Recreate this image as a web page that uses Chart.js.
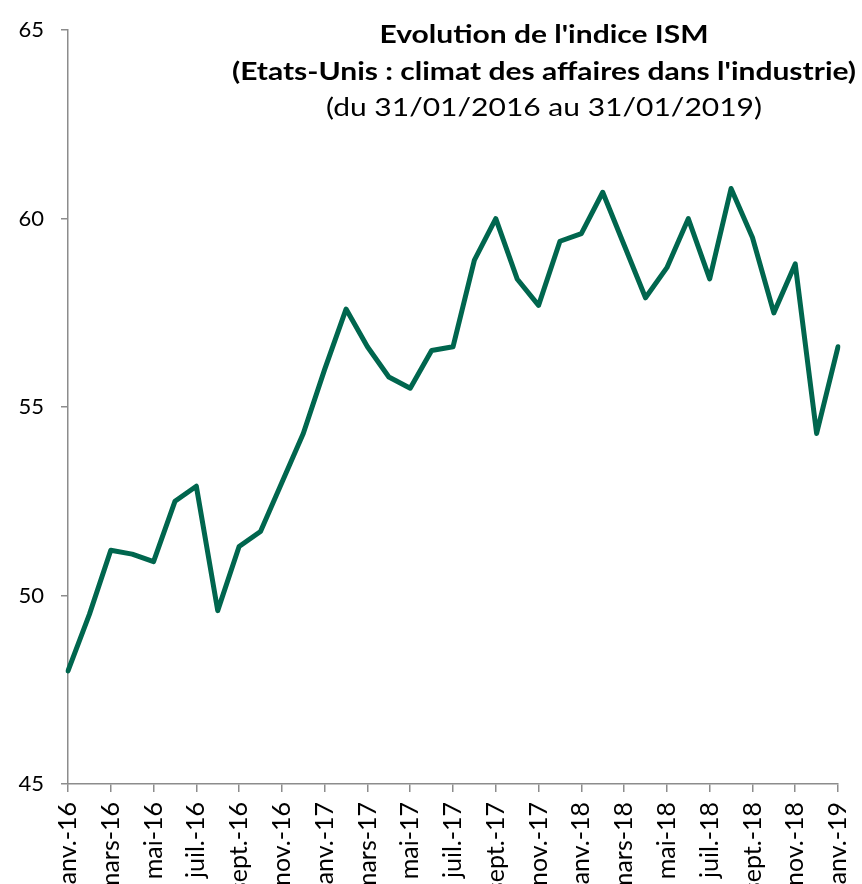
<!DOCTYPE html>
<html>
<head>
<meta charset="utf-8">
<script src="https://cdn.jsdelivr.net/npm/chart.js@4"></script>
<style>
  body { margin: 0; background: #fff; overflow: hidden; }
  #wrap { width: 862px; height: 884px; position: relative; }
</style>
</head>
<body>
<div id="wrap"><canvas id="ismChart"></canvas></div>
<script>
const months = ["janv.", "févr.", "mars", "avr.", "mai", "juin", "juil.", "août", "sept.", "oct.", "nov.", "déc."];
const years = ["16", "17", "18", "19"];

// one label per month, janv.-16 .. janv.-19
const labels = [];
years.forEach((yr) => {
  months.forEach((m) => labels.push(m + "-" + yr));
});
labels.length = 37;

// indice ISM manufacturier
const ismValues = [
  48.0, 49.5, 51.2, 51.1, 50.9, 52.5, 52.9, 49.6, 51.3, 51.7, 53.0, 54.3,
  56.0, 57.6, 56.6, 55.8, 55.5, 56.5, 56.6, 58.9, 60.0, 58.4, 57.7, 59.4,
  59.6, 60.7, 59.3, 57.9, 58.7, 60.0, 58.4, 60.8, 59.5, 57.5, 58.8, 54.3,
  56.6
];

const titleLines = [
  "Evolution de l'indice ISM",
  "(Etats-Unis : climat des affaires dans l'industrie)",
  "(du 31/01/2016 au 31/01/2019)"
];

const axisColor = "#8c8c8c";
const fontFamily = "Lato, 'Open Sans', sans-serif";

// title sits over the plot area, like the original
const titlePlugin = {
  id: "overlayTitle",
  afterDraw(chart) {
    const c = chart.ctx;
    const cx = 544;
    c.save();
    c.fillStyle = "#000";
    c.textAlign = "center";
    c.textBaseline = "middle";
    c.translate(cx, 0);
    c.scale(1.2, 1);
    c.font = "bold 25px " + fontFamily;
    c.fillText(titleLines[0], 0, 35);
    c.fillText(titleLines[1], 0, 72);
    c.font = "25px " + fontFamily;
    c.fillText(titleLines[2], 0, 108);
    c.restore();
  }
};

const ctx = document.getElementById("ismChart").getContext("2d");
new Chart(ctx, {
  type: "line",
  data: {
    labels: labels,
    datasets: [{
      data: ismValues,
      borderColor: "#00664e",
      borderWidth: 5,
      pointRadius: 0,
      tension: 0,
      borderJoinStyle: "round",
      borderCapStyle: "round"
    }]
  },
  options: {
    responsive: true,
    maintainAspectRatio: false,
    animation: false,
    layout: { padding: { top: 28, right: 24, left: 0, bottom: 0 } },
    plugins: {
      legend: { display: false },
      tooltip: { enabled: false }
    },
    scales: {
      x: {
        afterFit: (axis) => {
          axis.height = 100;
          axis.paddingLeft = 0;
          axis.paddingRight = 0;
        },
        border: { display: true, color: axisColor, width: 1.5 },
        grid: {
          drawOnChartArea: false,
          drawTicks: true,
          tickLength: 8,
          lineWidth: 1.5,
          color: (c) => (c.index % 2 === 0 ? axisColor : "rgba(0,0,0,0)")
        },
        ticks: {
          autoSkip: false,
          minRotation: 90,
          maxRotation: 90,
          padding: 10,
          color: "#000",
          font: { family: fontFamily, size: 25 },
          callback: function (val, i) {
            return i % 2 === 0 ? this.getLabelForValue(val) : "";
          }
        }
      },
      y: {
        min: 45,
        max: 65,
        afterFit: (axis) => { axis.width = 68; },
        border: { display: true, color: axisColor, width: 1.5 },
        grid: {
          drawOnChartArea: false,
          drawTicks: true,
          tickLength: 7,
          lineWidth: 1.5,
          color: axisColor
        },
        ticks: {
          stepSize: 5,
          padding: 17,
          color: "#000",
          font: { family: fontFamily, size: 22 }
        }
      }
    }
  },
  plugins: [titlePlugin]
});
</script>
</body>
</html>
